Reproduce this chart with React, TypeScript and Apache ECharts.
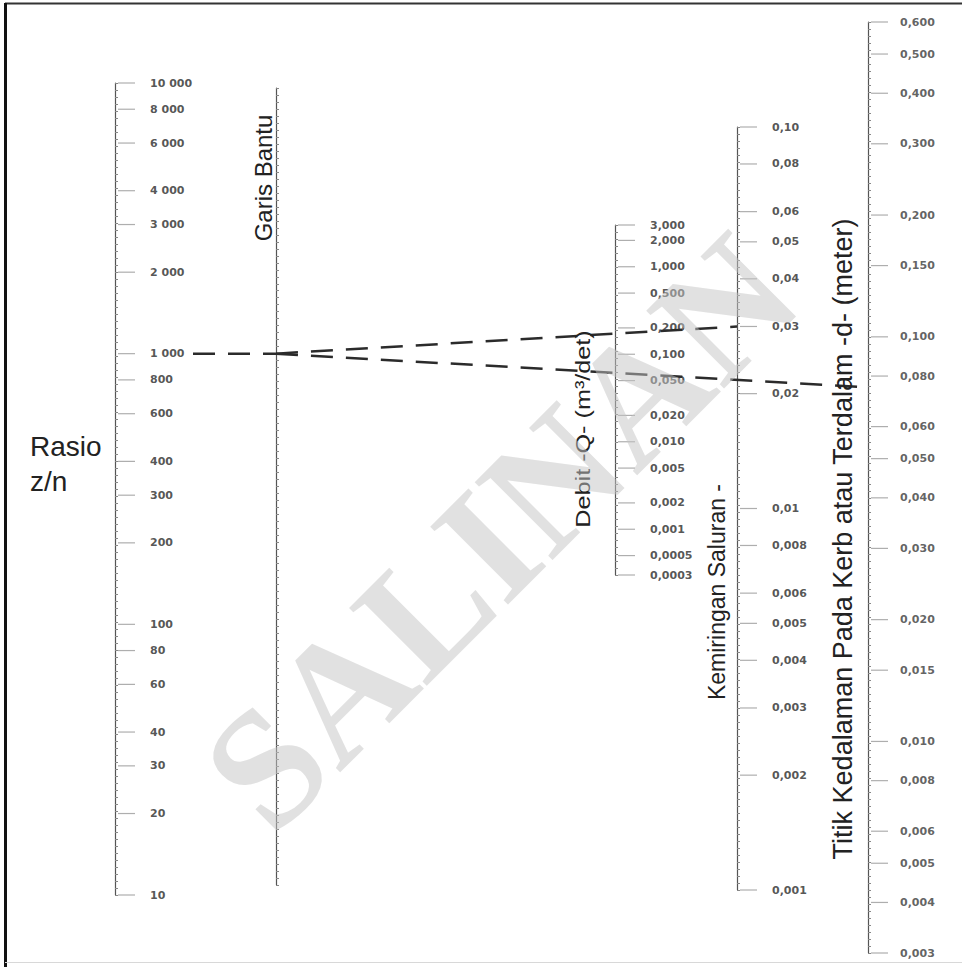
import React, { useEffect, useRef } from "react";
import * as echarts from "echarts";

// ---- data: tick values and their printed labels ----
const rasioValues = [10000, 8000, 6000, 4000, 3000, 2000, 1000, 800, 600, 400, 300, 200, 100, 80, 60, 40, 30, 20, 10];
const rasioLabels = ["10 000", "8 000", "6 000", "4 000", "3 000", "2 000", "1 000", "800", "600", "400", "300", "200", "100", "80", "60", "40", "30", "20", "10"];

const debitValues = [3, 2, 1, 0.5, 0.2, 0.1, 0.05, 0.02, 0.01, 0.005, 0.002, 0.001, 0.0005, 0.0003];
const debitLabels = ["3,000", "2,000", "1,000", "0,500", "0,200", "0,100", "0,050", "0,020", "0,010", "0,005", "0,002", "0,001", "0,0005", "0,0003"];

const kemiringanValues = [0.1, 0.08, 0.06, 0.05, 0.04, 0.03, 0.02, 0.01, 0.008, 0.006, 0.005, 0.004, 0.003, 0.002, 0.001];
const kemiringanLabels = ["0,10", "0,08", "0,06", "0,05", "0,04", "0,03", "0,02", "0,01", "0,008", "0,006", "0,005", "0,004", "0,003", "0,002", "0,001"];

const kedalamanValues = [0.6, 0.5, 0.4, 0.3, 0.2, 0.15, 0.1, 0.08, 0.06, 0.05, 0.04, 0.03, 0.02, 0.015, 0.01, 0.008, 0.006, 0.005, 0.004, 0.003];
const kedalamanLabels = ["0,600", "0,500", "0,400", "0,300", "0,200", "0,150", "0,100", "0,080", "0,060", "0,050", "0,040", "0,030", "0,020", "0,015", "0,010", "0,008", "0,006", "0,005", "0,004", "0,003"];

// example reading drawn on the nomograph
const rasioReading = 1000;
const kemiringanReading = 0.03;
const kedalamanReading = 0.075;

// ---- layout of the scales ----
type Scale = {
  x: number; top: number; bottom: number;
  log: boolean; min: number; max: number;
  values: number[]; labels: string[];
  gap: number; color: string;
};
const scales: Scale[] = [
  { x: 115, top: 83, bottom: 895, log: true, min: 10, max: 10000, values: rasioValues, labels: rasioLabels, gap: 15, color: "#2a2a2a" },
  { x: 276, top: 88, bottom: 885, log: false, min: 0, max: 1, values: [], labels: [], gap: 14, color: "#2a2a2a" },
  { x: 615, top: 225, bottom: 575, log: true, min: 0.0003, max: 3, values: debitValues, labels: debitLabels, gap: 15, color: "#2a2a2a" },
  { x: 737, top: 127, bottom: 890, log: true, min: 0.001, max: 0.1, values: kemiringanValues, labels: kemiringanLabels, gap: 15, color: "#2a2a2a" },
  { x: 868, top: 22, bottom: 953, log: true, min: 0.003, max: 0.6, values: kedalamanValues, labels: kedalamanLabels, gap: 12, color: "#3a3a3a" },
];

export default function App() {
  const ref = useRef<HTMLDivElement>(null);
  useEffect(() => {
    if (!ref.current) return;
    const chart = echarts.init(ref.current, null, { renderer: "svg" });

    const grid = scales.map((s) => ({
      left: s.x, top: s.top, width: 10, height: s.bottom - s.top,
      outerBoundsMode: "none", containLabel: false,
    }));
    const xAxis = scales.map((_, i) => ({ type: "value", gridIndex: i, min: 0, max: 1, show: false }));
    const mainY = scales.map((s, i) => ({
      type: s.log ? "log" : "value",
      logBase: 10,
      gridIndex: i, position: "left", min: s.min, max: s.max,
      axisLine: { show: true, lineStyle: { color: "#555", width: 1.2 } },
      axisTick: { show: false }, axisLabel: { show: false }, splitLine: { show: false },
    }));
    const tickY = scales.map((s, i) => {
      const n = Math.round((s.bottom - s.top) / 7);
      return {
        type: "value", gridIndex: i, position: "left", min: 0, max: n, interval: 1,
        axisLine: { show: false },
        axisTick: { show: true, inside: true, length: 3, lineStyle: { color: "#888", width: 1 } },
        axisLabel: { show: false }, splitLine: { show: false },
      };
    });
    const series = scales
      .map((s, i) => ({ s, i }))
      .filter(({ s }) => s.values.length > 0)
      .map(({ s, i }) => ({
        type: "scatter", xAxisIndex: i, yAxisIndex: i, silent: true, clip: false,
        symbol: "rect", symbolSize: [17, 1.2], symbolOffset: [11.5, 0],
        itemStyle: { color: "#9a9a9a" },
        data: s.values.map((v) => [0, v]),
        label: {
          show: true, position: "right", distance: s.gap,
          formatter: (p: any) => s.labels[p.dataIndex],
          fontFamily: "DejaVu Sans", fontWeight: "bold", fontSize: 11, color: s.color,
        },
      }));

    chart.setOption({
      animation: false,
      backgroundColor: "#ffffff",
      grid, xAxis, yAxis: [...mainY, ...tickY], series,
    });

    const pR = chart.convertToPixel({ xAxisIndex: 0, yAxisIndex: 0 }, [0, rasioReading]) as number[];
    const pB = chart.convertToPixel({ xAxisIndex: 1, yAxisIndex: 1 }, [0, 0.5]) as number[];
    const pK = chart.convertToPixel({ xAxisIndex: 3, yAxisIndex: 3 }, [0, kemiringanReading]) as number[];
    const pD = chart.convertToPixel({ xAxisIndex: 4, yAxisIndex: 4 }, [0, kedalamanReading]) as number[];
    const pivot = [pB[0], pR[1]];
    const dash = { stroke: "#2b2b2b", lineWidth: 2.5, lineDash: [22, 13] };

    const titleFont = "Liberation Sans";
    chart.setOption({
      graphic: [
        { type: "line", z: 50, shape: { x1: 5, y1: 3.5, x2: 962, y2: 3.5 }, style: { stroke: "#333", lineWidth: 2 } },
        { type: "line", z: 50, shape: { x1: 5.5, y1: 3, x2: 5.5, y2: 967 }, style: { stroke: "#111", lineWidth: 3 } },
        { type: "line", z: 50, shape: { x1: 5, y1: 962.5, x2: 962, y2: 962.5 }, style: { stroke: "#d8d8d8", lineWidth: 1 } },
        { type: "line", z: 30, shape: { x1: pR[0] + 78, y1: pR[1], x2: pivot[0], y2: pivot[1] }, style: dash },
        { type: "line", z: 30, shape: { x1: pivot[0], y1: pivot[1], x2: pK[0], y2: pK[1] }, style: dash },
        { type: "line", z: 30, shape: { x1: pivot[0], y1: pivot[1], x2: pD[0], y2: pD[1] }, style: dash },
        { type: "text", z: 40, x: 30, y: 460, style: { text: "Rasio", fontFamily: titleFont, fontSize: 28, fill: "#222", textVerticalAlign: "bottom" } },
        { type: "text", z: 40, x: 30, y: 495, style: { text: "z/n", fontFamily: titleFont, fontSize: 28, fill: "#222", textVerticalAlign: "bottom" } },
        { type: "text", z: 40, x: 263, y: 178, rotation: Math.PI / 2, style: { text: "Garis Bantu", fontFamily: titleFont, fontSize: 24, fill: "#222", textAlign: "center", textVerticalAlign: "middle" } },
        { type: "text", z: 40, x: 583, y: 429, rotation: Math.PI / 2, scaleX: 1.2, style: { text: "Debit -Q- (m³/det)", fontFamily: titleFont, fontSize: 21, fill: "#222", textAlign: "center", textVerticalAlign: "middle" } },
        { type: "text", z: 40, x: 717, y: 592, rotation: Math.PI / 2, style: { text: "Kemiringan Saluran -", fontFamily: titleFont, fontSize: 23, fill: "#222", textAlign: "center", textVerticalAlign: "middle" } },
        { type: "text", z: 40, x: 843, y: 539, rotation: Math.PI / 2, style: { text: "Titik Kedalaman Pada Kerb atau Terdalam -d- (meter)", fontFamily: titleFont, fontSize: 27, fill: "#222", textAlign: "center", textVerticalAlign: "middle" } },
        { type: "text", z: 100, x: 500, y: 532, rotation: Math.PI / 4, style: { text: "SALINAN", fontFamily: "Liberation Serif", fontWeight: "bold", fontSize: 168, fill: "rgba(195,195,195,0.5)", textAlign: "center", textVerticalAlign: "middle" } },
      ],
    });

    return () => chart.dispose();
  }, []);
  return <div ref={ref} style={{ position: "fixed", left: 0, top: 0, width: 962, height: 967, background: "#fff" }} />;
}
